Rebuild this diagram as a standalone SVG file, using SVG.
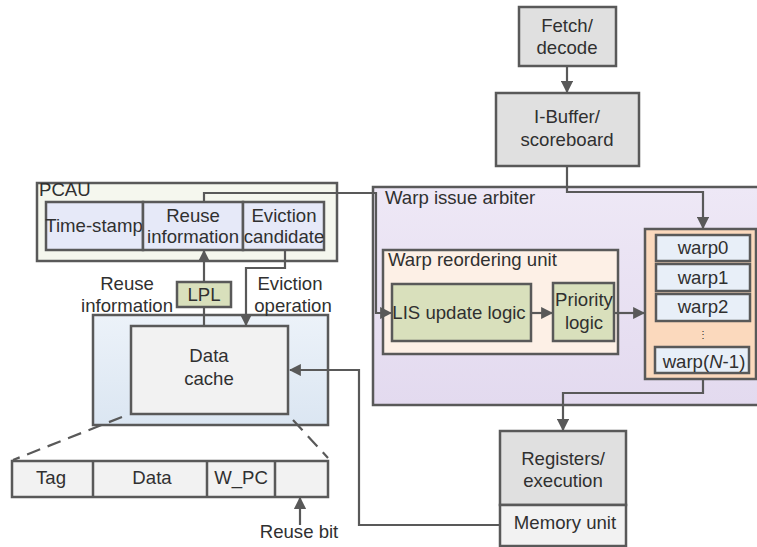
<svg xmlns="http://www.w3.org/2000/svg" width="757" height="547" viewBox="0 0 757 547">
<defs>
<style>
text{font-family:"Liberation Sans",Arial,sans-serif;font-size:18.6px;fill:#303030}
.c{text-anchor:middle}
.b{stroke:#595959;stroke-width:2.5}
.w{stroke:#595959;stroke-width:2.5;fill:none}
.ln{stroke:#595959;stroke-width:2.2;fill:none}
</style>
<marker id="ah" viewBox="0 0 10 10" refX="9" refY="5" markerWidth="5.5" markerHeight="5.5" orient="auto" markerUnits="strokeWidth"><path d="M0,0L10,5L0,10z" fill="#595959"/></marker>
<linearGradient id="gArb" x1="0" y1="0" x2="0" y2="1"><stop offset="0" stop-color="#eee8f6"/><stop offset="1" stop-color="#e3daef"/></linearGradient>
<linearGradient id="gDC" x1="0" y1="0" x2="0" y2="1"><stop offset="0" stop-color="#ecf2f9"/><stop offset="1" stop-color="#dbe6f2"/></linearGradient>
</defs>
<g id="arbiter"><rect x="373" y="187" width="390" height="218" fill="url(#gArb)" class="b"/><text x="385" y="204">Warp issue arbiter</text></g>
<g id="reorder"><rect x="383" y="250" width="235" height="104" fill="#fdf0e6" class="b"/><text x="388" y="266">Warp reordering unit</text></g>
<g id="lis"><rect x="392" y="284" width="139" height="57" fill="#d9e0bc" class="b"/><text class="c" x="459" y="319">LIS update logic</text></g>
<g id="priority"><rect x="553" y="283" width="61" height="58" fill="#d9e0bc" class="b"/><text class="c" x="584" y="306">Priority</text><text class="c" x="584" y="329">logic</text></g>
<g id="warpq"><rect x="645" y="229" width="111" height="150" fill="#fbd9bd" class="b"/>
<rect x="656" y="235" width="94" height="26" fill="#e8eff8" class="b"/><text class="c" x="703" y="254">warp0</text>
<rect x="656" y="264" width="94" height="27" fill="#e8eff8" class="b"/><text class="c" x="703" y="284">warp1</text>
<rect x="656" y="294" width="94" height="27" fill="#e8eff8" class="b"/><text class="c" x="703" y="313">warp2</text>
<text class="c" x="703" y="338" style="font-size:10px">⋮</text>
<rect x="655" y="347" width="94" height="26" fill="#e8eff8" class="b"/><text class="c" x="704" y="368">warp(<tspan font-style="italic">N</tspan>-1)</text></g>
<g id="fetch"><rect x="519" y="7" width="97" height="59" fill="#e0e0e0" class="b"/><text class="c" x="567" y="32">Fetch/</text><text class="c" x="567" y="54">decode</text></g>
<g id="ibuffer"><rect x="496" y="93" width="143" height="73" fill="#e0e0e0" class="b"/><text class="c" x="567" y="123">I-Buffer/</text><text class="c" x="567" y="146">scoreboard</text></g>
<g id="registers"><rect x="500" y="431" width="126" height="74" fill="#e0e0e0" class="b"/><text class="c" x="563" y="465">Registers/</text><text class="c" x="563" y="487">execution</text>
<rect x="500" y="505" width="126" height="41" fill="#f2f2f2" class="b"/><text class="c" x="565" y="529">Memory unit</text></g>
<g id="pcau"><rect x="37" y="183" width="300" height="78" fill="#f5f7ee" class="b"/><text x="39" y="196">PCAU</text>
<rect x="46" y="202" width="97" height="48" fill="#e6e9f8" class="b"/><text class="c" x="94" y="232">Time-stamp</text>
<rect x="143" y="202" width="100" height="48" fill="#e6e9f8" class="b"/><text class="c" x="193" y="222">Reuse</text><text class="c" x="193" y="243">information</text>
<rect x="243" y="202" width="81" height="48" fill="#e6e9f8" class="b"/><text class="c" x="284" y="222">Eviction</text><text class="c" x="284" y="243">candidate</text></g>
<g id="lpl"><rect x="177" y="282" width="54" height="25" fill="#d9e0bc" class="b"/><text class="c" x="204" y="301">LPL</text></g>
<g id="datacache"><rect x="93" y="315" width="235" height="110" fill="url(#gDC)" class="b"/>
<rect x="131" y="326" width="157" height="88" fill="#f2f2f2" class="b"/><text class="c" x="209" y="362">Data</text><text class="c" x="209" y="385">cache</text></g>
<g id="line"><rect x="12" y="461" width="316" height="36" fill="#f2f2f2" class="b"/>
<path d="M93,461V497M207,461V497M275,461V497" class="w"/>
<text class="c" x="51" y="484">Tag</text><text class="c" x="152" y="484">Data</text><text class="c" x="241" y="484">W_PC</text></g>
<g id="labels"><text class="c" x="127" y="290">Reuse</text><text class="c" x="127" y="312">information</text>
<text class="c" x="290" y="290">Eviction</text><text class="c" x="293" y="312">operation</text>
<text class="c" x="299" y="538">Reuse bit</text></g>
<g id="connectors">
<path d="M567,66V92" class="ln" marker-end="url(#ah)"/>
<path d="M567,166V192H703V228" class="ln" marker-end="url(#ah)"/>
<path d="M531,313H552" class="ln" marker-end="url(#ah)"/>
<path d="M614,313H644" class="ln" marker-end="url(#ah)"/>
<path d="M703,379V393H563V430" class="ln" marker-end="url(#ah)"/>
<path d="M500,525H359V370H290" class="ln" marker-end="url(#ah)"/>
<path d="M204,202V193H376V313H391" class="ln" marker-end="url(#ah)"/>
<path d="M204,282V251" class="ln" marker-end="url(#ah)"/>
<path d="M204,307V326" class="ln"/>
<path d="M285,250V268H246V325" class="ln" marker-end="url(#ah)"/>
<path d="M300,525V498" class="ln" marker-end="url(#ah)"/>
<path d="M122,417L13,460M293,420L328,458" class="ln" stroke-dasharray="14,8"/>
</g>
</svg>
